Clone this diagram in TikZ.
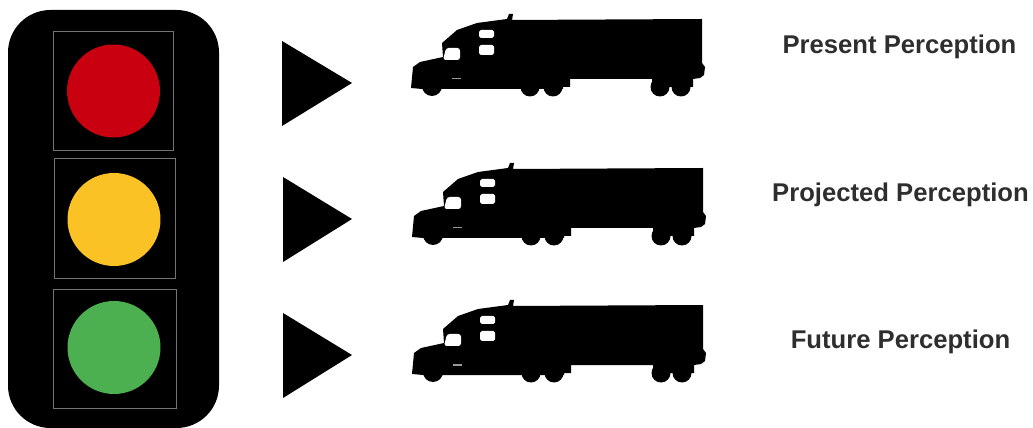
\documentclass[tikz,border=0pt]{standalone}
\usepackage{fontspec}
\setmainfont{Liberation Sans}
\usetikzlibrary{positioning}
\definecolor{lampred}{HTML}{C9000F}
\definecolor{lampyellow}{HTML}{FBC225}
\definecolor{lampgreen}{HTML}{4CAF50}
\tikzset{
 lamp/.style={circle,minimum size=1.86cm,inner sep=0pt},
 lampframe/.style={draw=black!55,line width=0.4pt},
 caption/.style={font=\bfseries\fontsize{14.6}{16}\selectfont,text=black!82},
 truck/.pic={
  \fill[black] (11,88) -- (13,67) -- (20,62) -- (43,57) -- (42,43) -- (57,30) -- (77,23)
   -- (107,19) -- (109,14) -- (113,14) -- (112,20) -- (302,19) -- (302,63) -- (305,67)
   -- (304,75) -- (300,78) -- (293,79) -- (293,87) -- (252,87) -- (252,79) -- (170,79)
   -- (170,87) -- (163,87) -- (163,89) -- (22,89) -- cycle;
  \foreach \wx in {130,153,260,281} \fill[black] (\wx,87) circle (9.5);
  \fill[black] (32,86) circle (10);
  \fill[white,rounded corners=1pt] (79,30) rectangle (94,38);
  \fill[white,rounded corners=1pt] (79,45) rectangle (94,55);
  \fill[white,rounded corners=1.5pt] (46,48) -- (60,48) -- (60,60) -- (43,60) -- cycle;
  \fill[white!60!black] (52,78) rectangle (61,79.5);
 }
}
\begin{document}
\begin{tikzpicture}[x=0.02cm,y=-0.02cm]
\useasboundingbox (0,0) rectangle (1033,428);
\fill[black,rounded corners=0.85cm] (8,10) rectangle (219,428);
% lights
\draw[lampframe] (53,31) rectangle (173,150);
\draw[lampframe] (54,158) rectangle (175,278);
\draw[lampframe] (53,289) rectangle (176,408);
\node[lamp,fill=lampred] (red) at (113.5,91) {};
\node[lamp,fill=lampyellow] (yellow) at (114,219.5) {};
\node[lamp,fill=lampgreen] (green) at (114,347.5) {};
% pointers
\fill (282,41) -- (352,83) -- (282,126) -- cycle;
\fill (283,177) -- (352,219) -- (283,262) -- cycle;
\fill (283,313) -- (352,355) -- (283,398) -- cycle;
% trucks
\pic at (400,0) {truck};
\pic at (401,149) {truck};
\pic at (401,286) {truck};
\node[caption] (present) at (899.5,47) {Present Perception};
\node[caption] (projected) at (900.5,195) {Projected Perception};
\node[caption] (future) at (900.5,342) {Future Perception};
\end{tikzpicture}
\end{document}
